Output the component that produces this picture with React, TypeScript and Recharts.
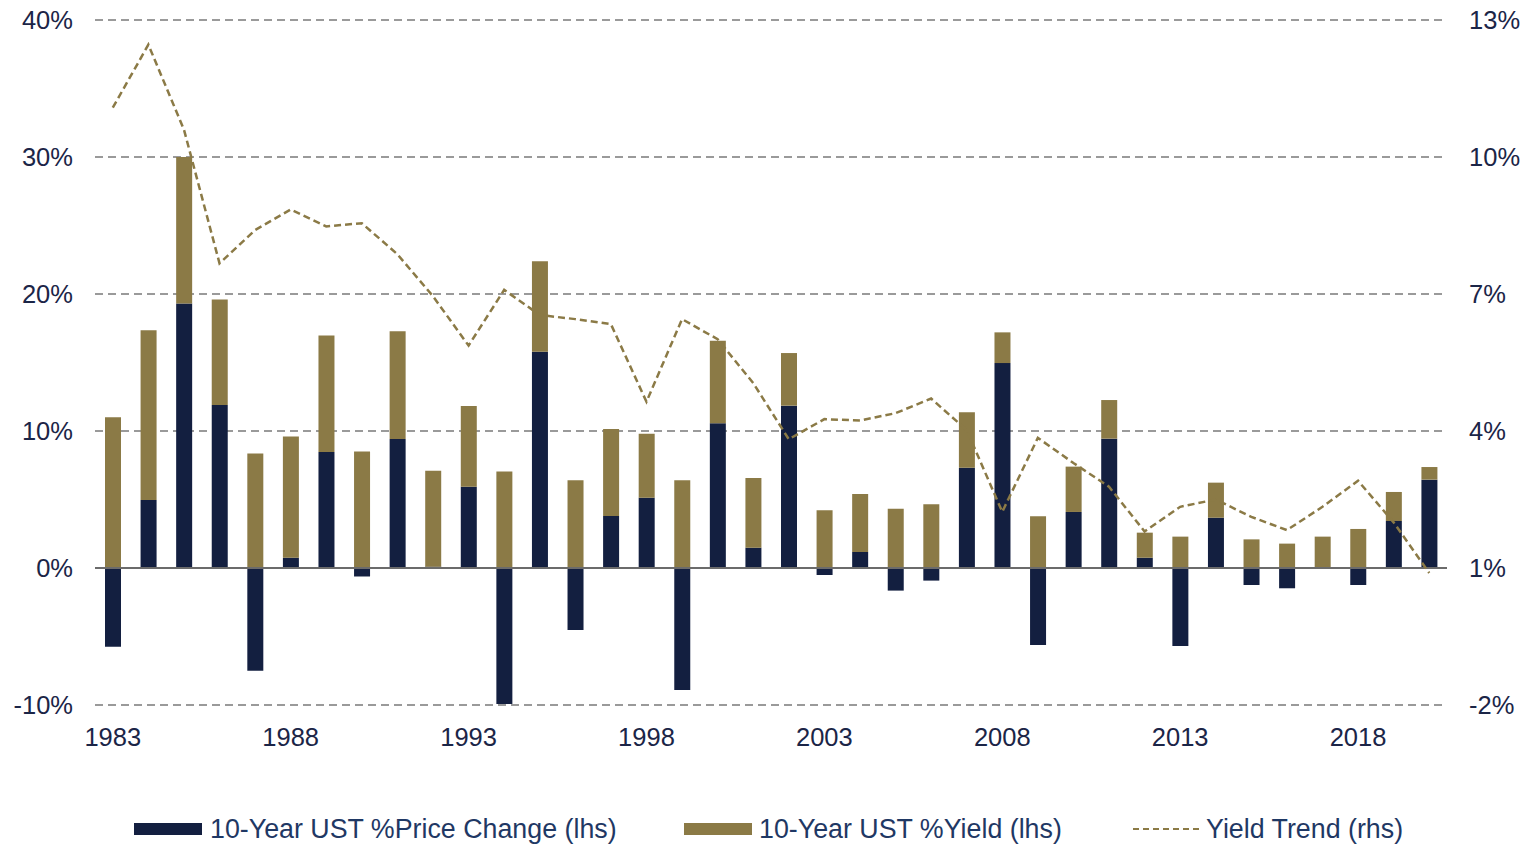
import React from "react";
import {
  ComposedChart,
  Bar,
  Line,
  XAxis,
  YAxis,
  CartesianGrid,
  ReferenceLine,
} from "recharts";

const years = [
  "1983", "1984", "1985", "1986", "1987", "1988", "1989", "1990", "1991", "1992",
  "1993", "1994", "1995", "1996", "1997", "1998", "1999", "2000", "2001", "2002",
  "2003", "2004", "2005", "2006", "2007", "2008", "2009", "2010", "2011", "2012",
  "2013", "2014", "2015", "2016", "2017", "2018", "2019", "2020",
];

const priceChange = [
  -5.75, 4.96, 19.3, 11.9, -7.5, 0.75, 8.47, -0.62, 9.42, 0.1,
  5.93, -9.93, 15.79, -4.53, 3.8, 5.13, -8.9, 10.56, 1.48, 11.85,
  -0.51, 1.17, -1.65, -0.92, 7.32, 14.96, -5.62, 4.09, 9.44, 0.75,
  -5.69, 3.67, -1.24, -1.48, 0.0, -1.24, 3.43, 6.45,
];

const yieldPct = [
  11.0, 12.4, 10.7, 7.7, 8.35, 8.85, 8.5, 8.5, 7.86, 7.0,
  5.9, 7.05, 6.6, 6.4, 6.35, 4.67, 6.4, 6.03, 5.09, 3.84,
  4.21, 4.23, 4.33, 4.65, 4.04, 2.24, 3.77, 3.31, 2.82, 1.83,
  2.29, 2.56, 2.09, 1.78, 2.29, 2.85, 2.12, 0.92,
];

const yieldTrend = [
  11.08, 12.46, 10.6, 7.67, 8.4, 8.85, 8.48, 8.55, 7.87, 6.95,
  5.87, 7.09, 6.54, 6.45, 6.34, 4.64, 6.45, 6.01, 5.05, 3.82,
  4.26, 4.23, 4.39, 4.71, 4.02, 2.23, 3.85, 3.3, 2.78, 1.8,
  2.34, 2.5, 2.12, 1.83, 2.34, 2.91, 2.0, 0.89,
];

const leftTicks = [-10, 0, 10, 20, 30, 40];
const rightTicks = [-2, 1, 4, 7, 10, 13];

const data = years.map((y, i) => ({
  year: y,
  price: priceChange[i],
  yld: yieldPct[i],
  trend: yieldTrend[i],
}));

const NAVY = "#131f40";
const GOLD = "#8b7a46";
const TEXT = "#1b2547";
const LEGEND_TEXT = "#1f3864";
const FONT = "'Liberation Sans', Arial, sans-serif";

const LeftTick = (props: any) => {
  const { x, y, payload } = props;
  return (
    <text x={x - 14} y={y} dy="0.36em" textAnchor="end" fontSize={25.5} fill={TEXT} fontFamily={FONT}>
      {payload.value}%
    </text>
  );
};

const RightTick = (props: any) => {
  const { x, y, payload } = props;
  return (
    <text x={x + 14} y={y} dy="0.36em" textAnchor="start" fontSize={25.5} fill={TEXT} fontFamily={FONT}>
      {payload.value}%
    </text>
  );
};

const BottomTick = (props: any) => {
  const { x, y, payload } = props;
  return (
    <text x={x} y={y + 33} textAnchor="middle" fontSize={25.5} fill={TEXT} fontFamily={FONT}>
      {payload.value}
    </text>
  );
};

const legendText: React.CSSProperties = {
  position: "absolute",
  top: 829,
  transform: "translateY(-50%)",
  fontSize: 26.8,
  color: LEGEND_TEXT,
  fontFamily: FONT,
  whiteSpace: "nowrap",
  lineHeight: "30px",
};

export default function App() {
  return (
    <div style={{ position: "absolute", left: 0, top: 0, width: 1529, height: 845, background: "#fff" }}>
      <ComposedChart
        width={1529}
        height={845}
        data={data}
        stackOffset="sign"
        margin={{ top: 20, right: 12, left: 0, bottom: 100 }}
      >
        <CartesianGrid
          yAxisId="left"
          vertical={false}
          stroke="#9a9a9a"
          strokeWidth={2}
          strokeDasharray="8 5"
        />
        <XAxis
          dataKey="year"
          interval={4}
          axisLine={false}
          tickLine={false}
          height={40}
          tick={<BottomTick />}
        />
        <YAxis
          yAxisId="left"
          domain={[-10, 40]}
          ticks={leftTicks}
          width={95}
          axisLine={false}
          tickLine={false}
          tick={<LeftTick />}
        />
        <YAxis
          yAxisId="right"
          orientation="right"
          domain={[-2, 13]}
          ticks={rightTicks}
          width={70}
          axisLine={false}
          tickLine={false}
          tick={<RightTick />}
        />
        <Bar yAxisId="left" dataKey="price" stackId="a" fill={NAVY} barSize={16} isAnimationActive={false} />
        <Bar yAxisId="left" dataKey="yld" stackId="a" fill={GOLD} barSize={16} isAnimationActive={false} />
        <ReferenceLine yAxisId="left" y={0} stroke="#6b6b6b" strokeWidth={2} />
        <Line
          yAxisId="right"
          dataKey="trend"
          type="linear"
          stroke={GOLD}
          strokeWidth={2.5}
          strokeDasharray="7 4"
          dot={false}
          activeDot={false}
          isAnimationActive={false}
        />
      </ComposedChart>
      <div style={{ position: "absolute", left: 134, top: 823, width: 68, height: 12, background: NAVY }} />
      <div style={{ ...legendText, left: 210 }}>10-Year UST %Price Change (lhs)</div>
      <div style={{ position: "absolute", left: 684, top: 823, width: 68, height: 12, background: GOLD }} />
      <div style={{ ...legendText, left: 759 }}>10-Year UST %Yield (lhs)</div>
      <div
        style={{
          position: "absolute",
          left: 1133,
          top: 828,
          width: 66,
          height: 0,
          borderTop: `2px dashed ${GOLD}`,
        }}
      />
      <div style={{ ...legendText, left: 1206 }}>Yield Trend (rhs)</div>
    </div>
  );
}
